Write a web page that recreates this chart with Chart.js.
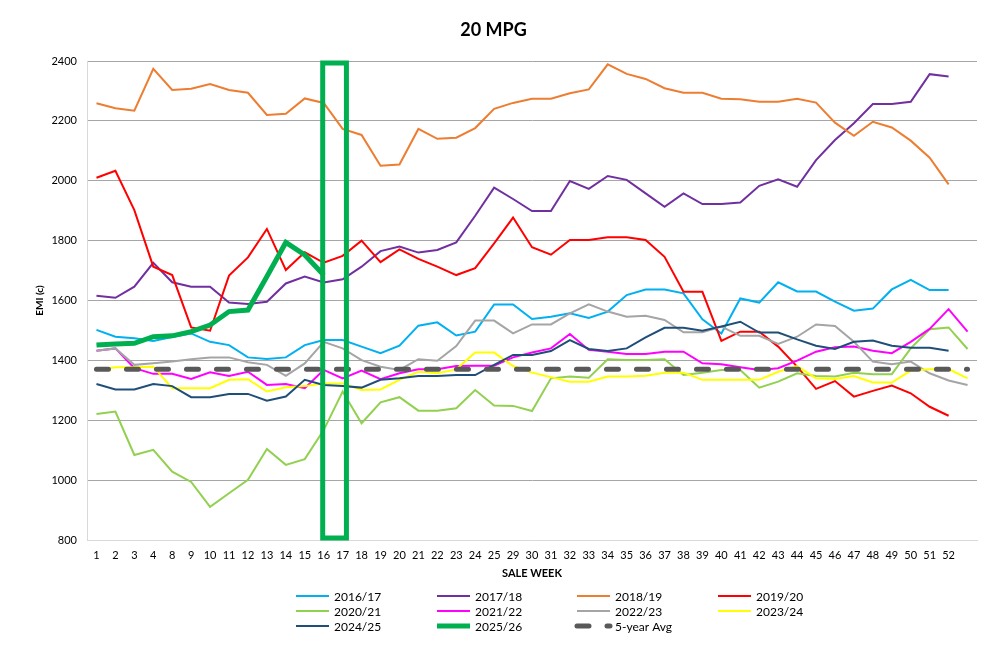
<!DOCTYPE html>
<html>
<head>
<meta charset="utf-8">
<title>20 MPG</title>
<script src="https://cdn.jsdelivr.net/npm/chart.js@4.4.1/dist/chart.umd.min.js"></script>
<style>
  html, body { margin: 0; padding: 0; background: #fff; }
  #wrap { width: 987px; height: 648px; }
</style>
</head>
<body>
<div id="wrap"><canvas id="grafico" width="987" height="648"></canvas></div>
<script>
// sale weeks (last slot has no label)
const semanas = ["1","2","3","4","8","9","10","11","12","13","14","15","16","17","18","19","20","21","22","23","24","25",
  "29","30","31","32","33","34","35","36","37","38","39","40","41","42","43","44","45","46","47","48","49","50","51","52",""];

const yTicks = [800, 1000, 1200, 1400, 1600, 1800, 2000, 2200, 2400];

const s1617 = [1502,1479,1474,1465,1478,1490,1462,1451,1410,1405,1410,1451,1468,1468,1446,1424,1449,1516,1527,1483,1496,1587,
  1587,1538,1546,1557,1542,1563,1618,1637,1637,1624,1537,1490,1607,1593,1661,1630,1630,1596,1566,1573,1637,1669,1635,1635];
const s1718 = [1616,1609,1646,1726,1661,1646,1646,1593,1588,1596,1657,1680,1660,1671,1713,1765,1780,1760,1769,1794,1883,1977,
  1939,1899,1899,1999,1973,2016,2003,1958,1913,1958,1922,1922,1927,1983,2005,1980,2069,2136,2192,2256,2256,2264,2356,2348];
const s1819 = [2259,2242,2234,2374,2303,2307,2323,2303,2294,2220,2224,2275,2260,2173,2153,2050,2054,2173,2140,2144,2176,2240,
  2260,2274,2274,2292,2305,2389,2357,2340,2309,2294,2294,2274,2272,2264,2264,2274,2261,2194,2150,2197,2178,2134,2077,1988];
const s1920 = [2010,2033,1902,1713,1685,1510,1499,1683,1744,1839,1702,1761,1726,1749,1800,1728,1771,1739,1713,1685,1708,1791,
  1877,1778,1753,1802,1802,1811,1811,1802,1746,1629,1629,1465,1496,1496,1446,1379,1305,1331,1279,1298,1316,1290,1245,1215];
const s2021 = [1221,1229,1084,1101,1028,994,911,956,1001,1104,1051,1070,1167,1296,1190,1260,1277,1232,1232,1240,1301,1249,
  1248,1231,1340,1346,1342,1404,1401,1401,1404,1351,1359,1368,1368,1309,1329,1357,1348,1346,1359,1354,1354,1440,1504,1510,1438];
const s2122 = [1432,1440,1374,1355,1355,1338,1360,1348,1362,1318,1321,1307,1368,1340,1366,1337,1357,1370,1370,1381,1382,1382,
  1410,1426,1440,1488,1435,1429,1421,1421,1429,1429,1390,1387,1377,1368,1374,1399,1429,1444,1446,1432,1424,1462,1505,1571,1496];
const s2223 = [1432,1440,1385,1390,1396,1404,1410,1410,1394,1385,1348,1390,1462,1440,1401,1379,1368,1404,1399,1448,1533,1533,
  1490,1520,1520,1557,1587,1563,1546,1549,1535,1494,1494,1513,1482,1482,1455,1479,1520,1515,1462,1396,1387,1396,1357,1333,1318];
const s2324 = [1368,1377,1377,1379,1307,1307,1307,1335,1337,1296,1310,1314,1323,1323,1301,1303,1335,1362,1357,1370,1426,1426,
  1381,1359,1344,1329,1329,1346,1346,1349,1359,1359,1335,1335,1335,1335,1362,1381,1340,1338,1348,1326,1326,1366,1370,1371,1340];
const s2425 = [1321,1303,1303,1321,1314,1277,1277,1288,1288,1265,1279,1335,1318,1314,1309,1335,1340,1348,1348,1351,1351,1385,
  1418,1418,1431,1468,1438,1431,1440,1477,1509,1509,1499,1513,1529,1493,1493,1470,1449,1438,1462,1466,1449,1442,1442,1432];
const s2526 = [1451,1455,1457,1479,1482,1496,1518,1563,1568,1680,1794,1752,1685];
const promedio5 = [1370,1370,1370,1370,1370,1370,1370,1370,1370,1370,1370,1370,1370,1370,1370,1370,1370,1370,1370,1370,1370,1370,
  1370,1370,1370,1370,1370,1370,1370,1370,1370,1370,1370,1370,1370,1370,1370,1370,1370,1370,1370,1370,1370,1370,1370,1370,1370];

// weeks highlighted by the green box
const semanaDesde = "16";
const semanaHasta = "17";

const series = [
  { label: "2016/17", data: s1617, color: "#00B0F0", width: 2 },
  { label: "2017/18", data: s1718, color: "#7030A0", width: 2 },
  { label: "2018/19", data: s1819, color: "#ED7D31", width: 2 },
  { label: "2019/20", data: s1920, color: "#FF0000", width: 2 },
  { label: "2020/21", data: s2021, color: "#92D050", width: 2 },
  { label: "2021/22", data: s2122, color: "#FF00FF", width: 2 },
  { label: "2022/23", data: s2223, color: "#A5A5A5", width: 2 },
  { label: "2023/24", data: s2324, color: "#FFFF00", width: 2 },
  { label: "2024/25", data: s2425, color: "#1F4E79", width: 2 },
  { label: "2025/26", data: s2526, color: "#00B050", width: 5 },
  { label: "5-year Avg", data: promedio5, color: "#595959", width: 5, dash: [12, 18] }
];

const FUENTE = "Lato, 'Open Sans', sans-serif";

// title, axis titles, legend and the highlight box
const extras = {
  id: "extras",
  afterDatasetsDraw(chart) {
    const { ctx, scales: { x, y } } = chart;
    const i1 = semanas.indexOf(semanaDesde);
    const i2 = semanas.indexOf(semanaHasta);
    const paso = x.getPixelForValue(1) - x.getPixelForValue(0);
    const x1 = x.getPixelForValue(i1) - 1;
    const x2 = x.getPixelForValue(i2) + paso * 0.2;
    const yT = y.getPixelForValue(yTicks[yTicks.length - 1]) + 2;
    const yB = y.getPixelForValue(yTicks[0]) - 2;
    ctx.save();
    ctx.strokeStyle = "#00B050";
    ctx.lineWidth = 5;
    ctx.strokeRect(x1, yT, x2 - x1, yB - yT);
    ctx.restore();
  },
  afterDraw(chart) {
    const { ctx, chartArea } = chart;
    ctx.save();
    ctx.fillStyle = "#000";
    ctx.textAlign = "center";
    ctx.textBaseline = "middle";
    ctx.font = "bold 18px " + FUENTE;
    ctx.fillText("20 MPG", chart.width / 2, 30);

    ctx.font = "bold 11px " + FUENTE;
    ctx.fillText("SALE WEEK", (chartArea.left + chartArea.right) / 2, 573);

    ctx.save();
    ctx.translate(40, (chartArea.top + chartArea.bottom) / 2);
    ctx.rotate(-Math.PI / 2);
    ctx.font = "bold 10px " + FUENTE;
    ctx.fillText("EMI (c)", 0, 0);
    ctx.restore();

    // legend, 4 columns
    const colX = [296, 437, 577, 718];
    const rowY = [596, 611, 626];
    ctx.font = "12px " + FUENTE;
    ctx.textAlign = "left";
    series.forEach((s, i) => {
      const cx = colX[i % 4];
      const cy = rowY[Math.floor(i / 4)];
      ctx.save();
      ctx.strokeStyle = s.color;
      ctx.lineWidth = s.width;
      ctx.lineCap = s.dash ? "round" : "butt";
      ctx.setLineDash(s.dash || []);
      ctx.beginPath();
      ctx.moveTo(cx, cy);
      ctx.lineTo(cx + 33, cy);
      ctx.stroke();
      ctx.restore();
      ctx.fillStyle = "#000";
      ctx.fillText(s.label, cx + 38, cy + 1);
    });
    ctx.restore();
  }
};

new Chart(document.getElementById("grafico"), {
  type: "line",
  data: {
    labels: semanas,
    datasets: series.map((s, i) => ({
      label: s.label,
      data: s.data,
      borderColor: s.color,
      backgroundColor: s.color,
      borderWidth: s.width,
      borderDash: s.dash || [],
      borderCapStyle: s.dash ? "round" : "butt",
      pointRadius: 0,
      tension: 0,
      fill: false,
      order: series.length - i
    }))
  },
  options: {
    responsive: false,
    animation: false,
    layout: { padding: { top: 61, right: 10, bottom: 0, left: 0 } },
    plugins: {
      legend: { display: false },
      title: { display: false },
      tooltip: { enabled: false }
    },
    scales: {
      x: {
        offset: true,
        grid: { display: false, drawTicks: false },
        border: { display: true, color: "#D9D9D9" },
        ticks: { autoSkip: false, maxRotation: 0, padding: 9, color: "#000", font: { family: FUENTE, size: 11 } },
        afterFit: s => { s.height = 108; }
      },
      y: {
        min: yTicks[0],
        max: yTicks[yTicks.length - 1],
        afterBuildTicks: s => { s.ticks = yTicks.map(v => ({ value: v })); },
        grid: {
          drawTicks: false,
          color: c => (c.tick && c.tick.value === yTicks[0] ? "#D9D9D9" : "#A6A6A6")
        },
        border: { display: true, color: "#D9D9D9" },
        ticks: {
          padding: 10,
          color: "#000",
          font: { family: FUENTE, size: 11 },
          callback: v => String(v)
        },
        afterFit: s => { s.width = 87; }
      }
    }
  },
  plugins: [extras]
});
</script>
</body>
</html>
